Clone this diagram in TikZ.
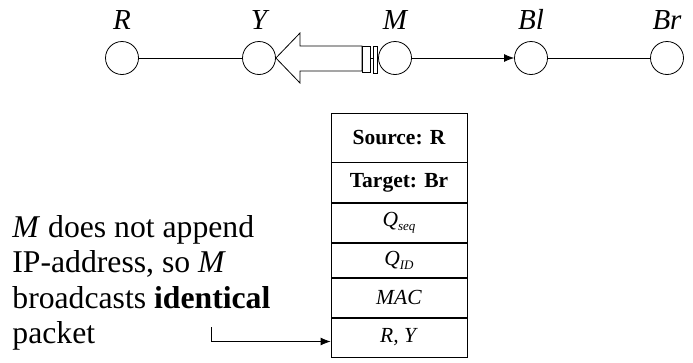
\documentclass[tikz,border=0pt]{standalone}
\usepackage{fontspec}
\setmainfont{Liberation Serif}
\usetikzlibrary{arrows.meta,positioning}

\tikzset{
  stn/.style={circle,draw,minimum size=33pt,inner sep=0pt},
  lbl/.style={font=\fontsize{29}{29}\selectfont\itshape,inner sep=0pt},
  fld/.style={draw,minimum width=136pt,inner sep=0pt,font=\fontsize{21.5}{21.5}\selectfont},
  tip/.style={-{Latex[length=10pt,width=8pt]}},
}

\begin{document}
\begin{tikzpicture}[x=1pt,y=-1pt,line width=0.8pt]
  \useasboundingbox (0,0) rectangle (693,362);

  % stations
  \foreach \n/\x in {R/122,Y/259,M/395,Bl/531,Br/667}
    \node[stn,label={[lbl,label distance=11pt]above:\n}] (\n) at (\x,58) {};
  \draw (R) -- (Y);
  \draw[tip] (M) -- (Bl);
  \draw (Bl) -- (Br);

  % wide arrow from M back to Y
  \draw (Y.east) -- (300,33) -- (300,46) -- (362,46) -- (362,71) -- (300,71) -- (300,83) -- cycle;
  \draw (362,46) rectangle (370,72);
  \draw (373,46) rectangle (377,73);
  \draw (370,58) -- (373,58) (377,58) -- (M.west);

  % packet
  \node[fld,minimum height=49pt,font=\fontsize{21.5}{21.5}\selectfont\bfseries] (src) at (399,137.5) {Source: R};
  \node[fld,minimum height=40pt,below=0pt of src,font=\fontsize{21.5}{21.5}\selectfont\bfseries] (tgt) {Target: Br};
  \node[fld,minimum height=39pt,below=0pt of tgt] (qseq) {\textit{Q}\raisebox{-4pt}{\fontsize{13}{13}\selectfont\textit{seq}}};
  \node[fld,minimum height=34pt,below=0pt of qseq] (qid) {\textit{Q}\raisebox{-4pt}{\fontsize{13}{13}\selectfont\textit{ID}}};
  \node[fld,minimum height=39pt,below=0pt of qid] (mac) {\textit{MAC}};
  \node[fld,minimum height=39pt,below=0pt of mac] (path) {\textit{R, Y}};

  % note
  \node[anchor=north west,align=left,inner sep=0pt,font=\fontsize{31.7}{35.5}\selectfont] (note) at (12,215)
    {\textit{M} does not append\\IP-address, so \textit{M}\\broadcasts \textbf{identical}\\packet};
  \coordinate (from) at (211,327);
  \draw[tip] (from) |- ([yshift=-4pt]path.west);
\end{tikzpicture}
\end{document}
